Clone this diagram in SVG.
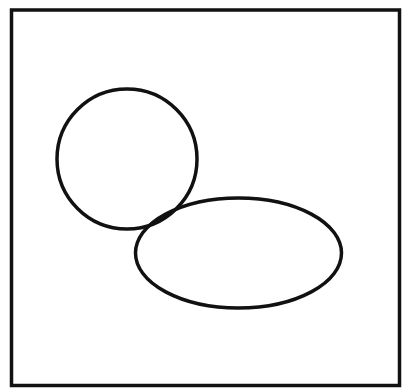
<svg xmlns="http://www.w3.org/2000/svg" width="402" height="388" viewBox="0 0 402 388">
<style>.s{fill:none;stroke:#111;stroke-width:3.5}</style>
<rect width="402" height="388" fill="#fff"/>
<g id="frame"><rect class="s" x="11.5" y="10" width="388" height="375.5" stroke-width="4"/></g>
<g id="circle"><circle class="s" cx="127" cy="159" r="70"/></g>
<g id="ellipse"><ellipse class="s" cx="238.5" cy="253" rx="103" ry="55"/></g>
</svg>
